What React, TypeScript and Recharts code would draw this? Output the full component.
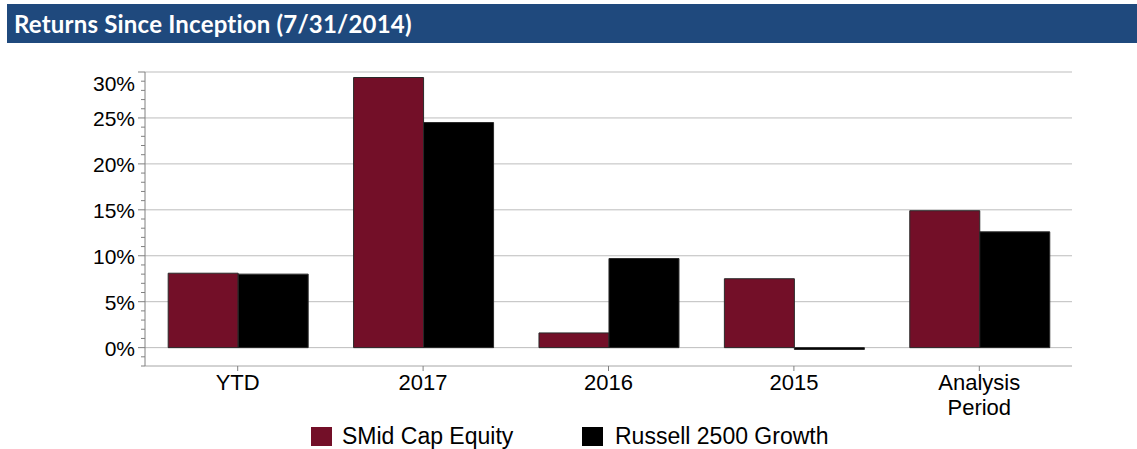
import { Bar, BarChart, CartesianGrid, XAxis, YAxis } from "recharts";

const categories = ["YTD", "2017", "2016", "2015", "Analysis Period"];
const smidCapEquity = [8.1, 29.4, 1.6, 7.5, 14.9];
const russell2500Growth = [8.0, 24.5, 9.7, -0.2, 12.6];
const seriesNames = ["SMid Cap Equity", "Russell 2500 Growth"];
const seriesColors = ["#730F28", "#000000"];
const yMajorTicks = [0, 5, 10, 15, 20, 25, 30];
const yDomain: [number, number] = [-2, 30];

const chartData = categories.map((name, i) => ({
  name,
  smid: smidCapEquity[i],
  russell: russell2500Growth[i],
}));

// every 1% gets a small tick, the 5% ones get a label
const yAllTicks: number[] = [];
for (let v = yDomain[0]; v <= yDomain[1]; v++) yAllTicks.push(v);

const FONT = "'Liberation Sans', Arial, sans-serif";

function YTick({ x, y, payload }: { x?: number; y?: number; payload?: { value: number } }) {
  if (x == null || y == null || !payload) return null;
  const v = payload.value;
  const major = v % 5 === 0;
  // top label sits a bit lower than its gridline, like the original
  const shift = v === yDomain[1] ? 11 : 1;
  return (
    <g>
      <line x1={x - (major ? 7 : 4)} x2={x} y1={y} y2={y} stroke="#808080" strokeWidth={1} />
      {major && v >= 0 && (
        <text
          x={x - 10}
          y={y + shift}
          textAnchor="end"
          dominantBaseline="central"
          fontFamily={FONT}
          fontSize={21}
          fill="#000"
        >
          {`${v}%`}
        </text>
      )}
    </g>
  );
}

function XTick({ x, y, payload }: { x?: number; y?: number; payload?: { value: string } }) {
  if (x == null || y == null || !payload) return null;
  const lines = String(payload.value).split(" ");
  return (
    <text textAnchor="middle" fontFamily={FONT} fontSize={22} fill="#000">
      {lines.map((line, i) => (
        <tspan key={line} x={x} y={y + 19 + i * 25}>
          {line}
        </tspan>
      ))}
    </text>
  );
}

export default function App() {
  return (
    <div style={{ position: "absolute", left: 0, top: 0, width: 1137, height: 449, background: "#fff" }}>
      <div
        style={{
          position: "absolute",
          left: 7,
          top: 4,
          width: 1130,
          height: 39,
          background: "#1F497D",
          color: "#fff",
          fontFamily: "Lato, 'Open Sans', sans-serif",
          fontWeight: 700,
          fontSize: 24,
          letterSpacing: 0.2,
          lineHeight: "39px",
          paddingLeft: 7,
          boxSizing: "border-box",
        }}
      >
        Returns Since Inception (7/31/2014)
      </div>

      <div style={{ position: "absolute", left: 0, top: 0 }}>
        <BarChart
          width={1137}
          height={449}
          data={chartData}
          margin={{ top: 72, right: 65, left: 0, bottom: 0 }}
          barCategoryGap="12.5%"
          barGap={0}
        >
          <CartesianGrid
            vertical={false}
            stroke="#BDBDBD"
            horizontalValues={yMajorTicks}
          />
          <XAxis
            dataKey="name"
            height={83}
            interval={0}
            axisLine={{ stroke: "#A6A6A6" }}
            tickLine={{ stroke: "#808080" }}
            tickSize={5}
            tickMargin={0}
            tick={<XTick />}
          />
          <YAxis
            type="number"
            width={145}
            domain={yDomain}
            ticks={yAllTicks}
            interval={0}
            allowDataOverflow
            axisLine={{ stroke: "#808080" }}
            tickLine={false}
            tickSize={0}
            tickMargin={0}
            tick={<YTick />}
          />
          <Bar
            dataKey="smid"
            name={seriesNames[0]}
            fill={seriesColors[0]}
            stroke="#2a2a2a"
            strokeWidth={1}
            isAnimationActive={false}
          />
          <Bar
            dataKey="russell"
            name={seriesNames[1]}
            fill={seriesColors[1]}
            stroke="#2a2a2a"
            strokeWidth={1}
            isAnimationActive={false}
          />
        </BarChart>
      </div>

      {seriesNames.map((name, i) => (
        <div
          key={name}
          style={{
            position: "absolute",
            left: i === 0 ? 311 : 582,
            top: 423,
            display: "flex",
            alignItems: "center",
            fontFamily: FONT,
            fontSize: 23,
            color: "#000",
            whiteSpace: "nowrap",
          }}
        >
          <span
            style={{
              display: "inline-block",
              width: 21,
              height: 19,
              background: seriesColors[i],
              marginRight: i === 0 ? 10 : 2 + 10,
            }}
          />
          <span>{name}</span>
        </div>
      ))}
    </div>
  );
}
